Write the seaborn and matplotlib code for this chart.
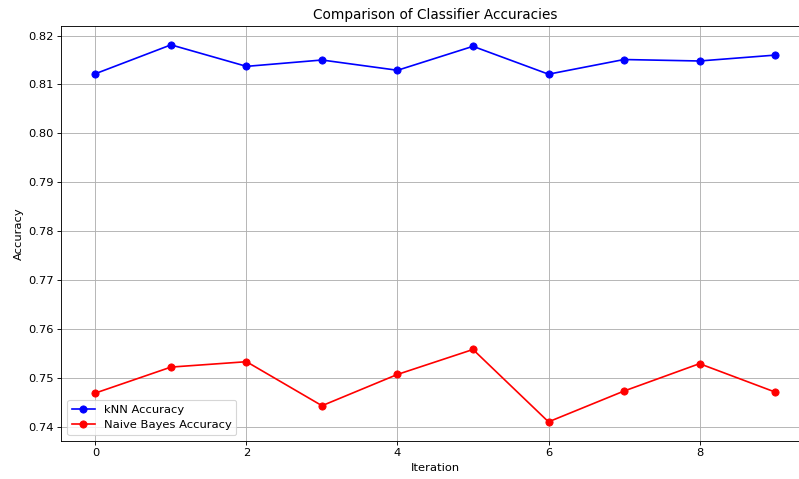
import matplotlib
matplotlib.use("Agg")
import matplotlib.pyplot as plt
import seaborn as sns

iterations = list(range(10))
knn_acc = [0.8122, 0.8181, 0.8137, 0.8150, 0.8129, 0.8178, 0.8121, 0.8151, 0.8148, 0.8160]
nb_acc = [0.7469, 0.7522, 0.7533, 0.7443, 0.7507, 0.7558, 0.7410, 0.7473, 0.7529, 0.7471]

plt.rcParams["font.size"] = 10.3

fig, ax = plt.subplots(figsize=(799/80, 479/80), dpi=80)
fig.subplots_adjust(left=61.5/799, right=809/799, top=1-26/479, bottom=1-440.7/479)

sns.lineplot(x=iterations, y=knn_acc, ax=ax, color="blue", marker="o",
             markeredgecolor="blue", markersize=6.5, label="kNN Accuracy")
sns.lineplot(x=iterations, y=nb_acc, ax=ax, color="red", marker="o",
             markeredgecolor="red", markersize=6.5, label="Naive Bayes Accuracy")

ax.set_title("Comparison of Classifier Accuracies", fontsize=12.3)
ax.set_xlabel("Iteration")
ax.set_ylabel("Accuracy")
ax.grid(True)
ax.legend(loc="lower left")
fig.savefig("out.png", dpi=80)
